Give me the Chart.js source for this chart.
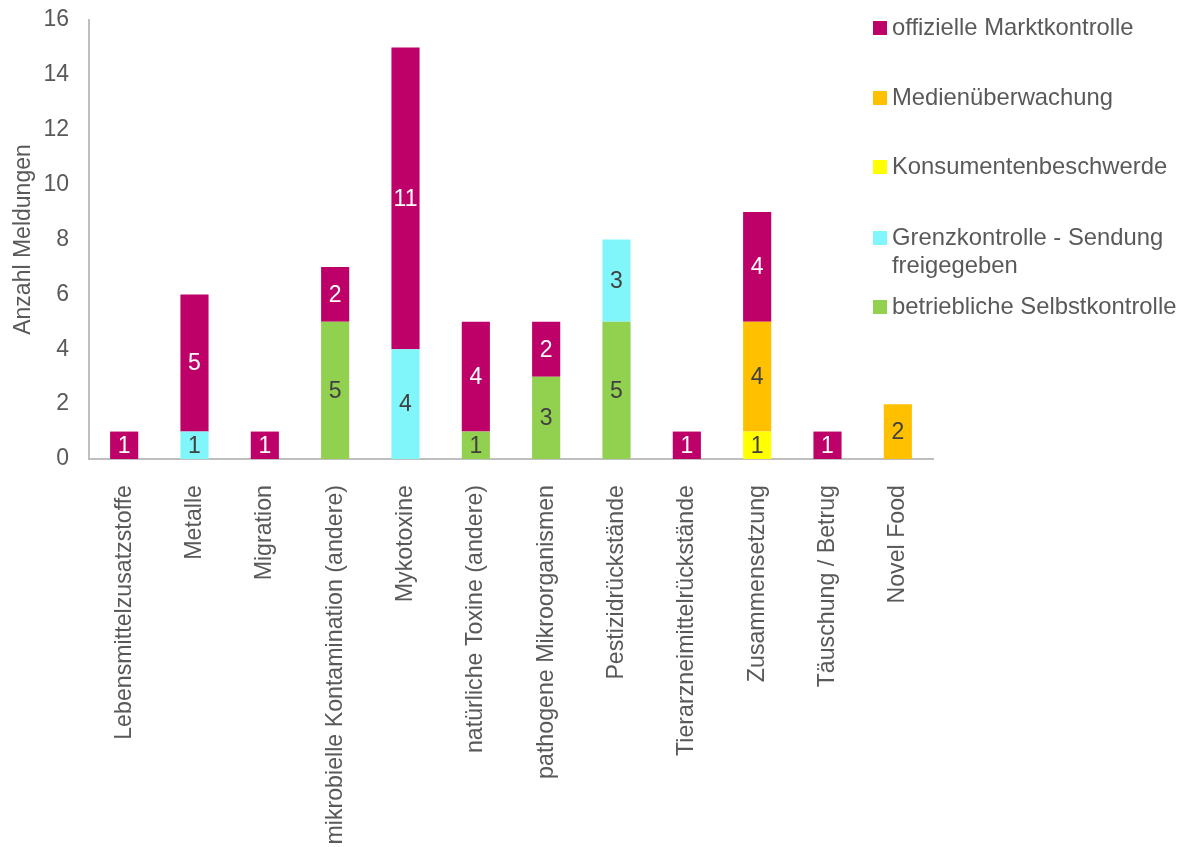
<!DOCTYPE html>
<html>
  <head>
    <meta charset="utf-8">
    <title>Meldungen nach Gefahrenkategorie</title>
    <script src="https://cdn.jsdelivr.net/npm/chart.js@4.4.0/dist/chart.umd.min.js"></script>
    <style>
      html, body { margin: 0; padding: 0; background: #fff; }
      #wrap { width: 1191px; height: 847px; }
    </style>
  </head>
  <body>
    <div id="wrap"><canvas id="myChart"></canvas></div>
    <script>
      const categories = [
        'Lebensmittelzusatzstoffe', 'Metalle', 'Migration',
        'mikrobielle Kontamination (andere)', 'Mykotoxine',
        'natürliche Toxine (andere)', 'pathogene Mikroorganismen',
        'Pestizidrückstände', 'Tierarzneimittelrückstände',
        'Zusammensetzung', 'Täuschung / Betrug', 'Novel Food'
      ];
      const selbstkontrolle = [0, 0, 0, 5, 0, 1, 3, 5, 0, 0, 0, 0];
      const grenzkontrolle = [0, 1, 0, 0, 4, 0, 0, 3, 0, 0, 0, 0];
      const konsumenten = [0, 0, 0, 0, 0, 0, 0, 0, 0, 1, 0, 0];
      const medien = [0, 0, 0, 0, 0, 0, 0, 0, 0, 4, 0, 2];
      const marktkontrolle = [1, 5, 1, 2, 11, 4, 2, 0, 1, 4, 1, 0];
      const yTicks = [0, 2, 4, 6, 8, 10, 12, 14, 16];

      const textColor = '#595959';
      const font = 'Arial, "Liberation Sans", sans-serif';

      // stacked bottom to top; legend lists them top to bottom
      const series = [
        { label: ['betriebliche Selbstkontrolle'], data: selbstkontrolle, color: '#92D050', valueColor: '#404040' },
        { label: ['Grenzkontrolle - Sendung', 'freigegeben'], data: grenzkontrolle, color: '#80F6FA', valueColor: '#404040' },
        { label: ['Konsumentenbeschwerde'], data: konsumenten, color: '#FFFF00', valueColor: '#404040' },
        { label: ['Medienüberwachung'], data: medien, color: '#FFC000', valueColor: '#404040' },
        { label: ['offizielle Marktkontrolle'], data: marktkontrolle, color: '#BE0069', valueColor: '#ffffff' }
      ];

      // numbers inside each segment
      const valueLabels = {
        id: 'valueLabels',
        afterDatasetsDraw(chart) {
          const ctx = chart.ctx;
          ctx.save();
          ctx.font = '23px ' + font;
          ctx.textAlign = 'center';
          ctx.textBaseline = 'middle';
          chart.data.datasets.forEach((ds, i) => {
            chart.getDatasetMeta(i).data.forEach((bar, j) => {
              const v = ds.data[j];
              if (!v) return;
              ctx.fillStyle = series[i].valueColor;
              ctx.fillText(String(v), bar.x, (bar.y + bar.base) / 2 + 1);
            });
          });
          ctx.restore();
        }
      };

      // legend at the right, one entry per series, top entry first
      const sideLegend = {
        id: 'sideLegend',
        afterDraw(chart) {
          const ctx = chart.ctx;
          const rows = [28, 98, 167, 238, 307];
          ctx.save();
          ctx.font = '23.8px ' + font;
          ctx.textBaseline = 'middle';
          ctx.textAlign = 'left';
          series.slice().reverse().forEach((s, k) => {
            const y = rows[k];
            ctx.fillStyle = s.color;
            ctx.fillRect(873, y - 7, 14, 14);
            ctx.fillStyle = textColor;
            s.label.forEach((line, n) => ctx.fillText(line, 892, y + n * 28));
          });
          ctx.restore();
        }
      };

      const ctx = document.getElementById('myChart').getContext('2d');
      const myChart = new Chart(ctx, {
        type: 'bar',
        data: {
          labels: categories,
          datasets: series.map(s => ({
            label: s.label.join(' '),
            data: s.data,
            backgroundColor: s.color,
            borderWidth: 0,
            barPercentage: 0.4,
            categoryPercentage: 1
          }))
        },
        options: {
          responsive: true,
          maintainAspectRatio: false,
          animation: false,
          layout: { padding: { top: 20, right: 258, left: 10, bottom: 0 } },
          plugins: {
            legend: { display: false },
            tooltip: { enabled: false }
          },
          scales: {
            x: {
              stacked: true,
              grid: { display: false, drawTicks: false },
              border: { color: '#BFBFBF', width: 2 },
              ticks: {
                color: textColor,
                font: { size: 23.2, family: font },
                minRotation: 90,
                maxRotation: 90,
                autoSkip: false,
                padding: 26
              },
              afterFit(scale) {
                scale.height = 388;
                scale.paddingLeft = 0;
                scale.paddingRight = 0;
              }
            },
            y: {
              stacked: true,
              min: 0,
              max: 16,
              afterBuildTicks(scale) { scale.ticks = yTicks.map(v => ({ value: v })); },
              grid: { display: false, drawTicks: false },
              border: { color: '#BFBFBF', width: 2 },
              title: {
                display: true,
                text: 'Anzahl Meldungen',
                color: textColor,
                font: { size: 23, family: font },
                padding: { top: 0, bottom: 4 }
              },
              ticks: {
                color: textColor,
                font: { size: 23, family: font },
                padding: 20
              },
              afterFit(scale) {
                scale.width = 79;
                scale.paddingTop = 0;
                scale.paddingBottom = 0;
              }
            }
          }
        },
        plugins: [valueLabels, sideLegend]
      });
    </script>
  </body>
</html>
